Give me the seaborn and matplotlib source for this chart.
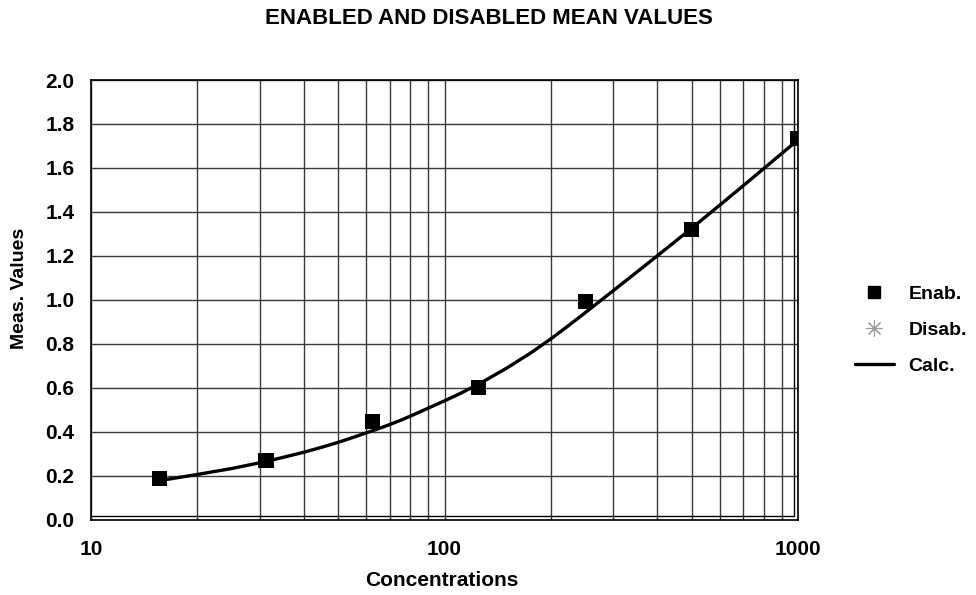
import matplotlib
matplotlib.use("Agg")
import matplotlib.pyplot as plt
import seaborn as sns
import pandas as pd
from matplotlib.lines import Line2D

# ---- data ----
enab_conc = [15.625, 31.25, 62.5, 125, 250, 500, 1000]
enab_vals = [0.185, 0.268, 0.447, 0.599, 0.992, 1.318, 1.735]

disab_conc = []
disab_vals = []

calc_conc = [15.625, 20, 25, 30, 35, 40, 45, 50, 55, 60, 65, 70, 75, 80, 85,
             90, 95, 100, 110, 125, 150, 175, 200, 225, 250, 300, 350, 400,
             500, 600, 700, 800, 900, 1000]
calc_vals = [0.177, 0.205, 0.232, 0.258, 0.283, 0.306, 0.329, 0.351, 0.373,
             0.394, 0.413, 0.432, 0.451, 0.470, 0.489, 0.507, 0.524, 0.540,
             0.571, 0.616, 0.689, 0.757, 0.822, 0.884, 0.941, 1.041, 1.126,
             1.200, 1.325, 1.430, 1.519, 1.597, 1.666, 1.727]

x_ticks = [10, 100, 1000]
x_ticklabels = ["10", "100", "1000"]
y_ticks = [0.0, 0.2, 0.4, 0.6, 0.8, 1.0, 1.2, 1.4, 1.6, 1.8, 2.0]

title = "ENABLED AND DISABLED MEAN VALUES"
xlabel = "Concentrations"
ylabel = "Meas. Values"
legend_labels = ["Enab.", "Disab.", "Calc."]

# ---- style ----
sns.set_style("white")
plt.rcParams["font.family"] = ["Liberation Sans", "DejaVu Sans"]
plt.rcParams["font.weight"] = "bold"
plt.rcParams["text.color"] = "black"
plt.rcParams["axes.labelcolor"] = "black"
plt.rcParams["xtick.color"] = "black"
plt.rcParams["ytick.color"] = "black"

fig = plt.figure(figsize=(9.76, 5.95), dpi=100)
ax = fig.add_axes([91 / 976, 1 - 519.5 / 595, (798 - 91) / 976, (519.5 - 80) / 595])

enab_df = pd.DataFrame({"conc": enab_conc, "val": enab_vals})
calc_df = pd.DataFrame({"conc": calc_conc, "val": calc_vals})
disab_df = pd.DataFrame({"conc": pd.Series(disab_conc, dtype=float),
                         "val": pd.Series(disab_vals, dtype=float)})

ax.set_xscale("log")
ax.set_xlim(10, 1000)
ax.set_ylim(0, 2.0)

grid_c = "#3a3a3a"
ax.grid(True, which="both", axis="x", color=grid_c, linewidth=1.0)
ax.grid(True, which="major", axis="y", color=grid_c, linewidth=1.0)
ax.set_axisbelow(True)

sns.lineplot(data=calc_df, x="conc", y="val", ax=ax, color="black",
             linewidth=2.4, sort=False, zorder=3)
sns.scatterplot(data=enab_df, x="conc", y="val", ax=ax, marker="s", s=120,
                color="black", edgecolor="none", zorder=4)
if len(disab_df):
    sns.scatterplot(data=disab_df, x="conc", y="val", ax=ax, marker=(8, 2, 0),
                    s=120, color="#999999", zorder=4)

ax.set_xticks(x_ticks)
ax.set_xticklabels(x_ticklabels)
ax.set_yticks(y_ticks)
ax.set_yticklabels([f"{v:.1f}" for v in y_ticks])
ax.tick_params(axis="both", which="major", direction="out", length=6,
               width=1, color="black", labelcolor="black", labelsize=15)
ax.tick_params(axis="y", which="major", pad=6)
ax.tick_params(axis="x", which="major", pad=9)
ax.tick_params(axis="x", which="minor", length=0)
for lab in ax.get_xticklabels() + ax.get_yticklabels():
    lab.set_fontweight("bold")

for side in ["left", "bottom", "right", "top"]:
    ax.spines[side].set_visible(True)
    ax.spines[side].set_color("black")
    ax.spines[side].set_linewidth(1.2)

# inner plot-area border (slightly inset at right and bottom)
dx = 4 / (798 - 91)
dy = 4 / (519.5 - 80)
ax.plot([0, 1 - dx], [dy, dy], transform=ax.transAxes, color="black",
        linewidth=1.0, zorder=2, clip_on=False)
ax.plot([1 - dx, 1 - dx], [dy, 1], transform=ax.transAxes, color="black",
        linewidth=1.0, zorder=2, clip_on=False)

ax.set_xlabel(xlabel, fontsize=15, fontweight="bold", color="black")
ax.xaxis.label.set_va("center")
ax.xaxis.set_label_coords((442 - 91) / 707, -(580 - 519.5) / 439.5)
ax.set_ylabel(ylabel, fontsize=14, fontweight="bold", color="black")
ax.yaxis.label.set_va("center")
ax.yaxis.set_label_coords((20 - 91) / 707, (519.5 - 288) / 439.5)
fig.text(489 / 976, 1 - 18 / 595, title, ha="center", va="center",
         fontsize=16, fontweight="bold", color="black")

handles = [
    Line2D([], [], linestyle="none", marker="s", markersize=8,
           color="black"),
    Line2D([], [], linestyle="none", marker=(8, 2, 0), markersize=12,
           color="#999999", markeredgewidth=0.8),
    Line2D([], [], color="black", linewidth=2.4),
]
leg = fig.legend(handles, legend_labels, loc="upper left",
                 bbox_to_anchor=(855 / 976, 1 - 285 / 595), frameon=False,
                 prop={"weight": "bold", "size": 14}, handlelength=2.0,
                 handletextpad=0.75, labelspacing=0.95, borderpad=0,
                 borderaxespad=0)
for t in leg.get_texts():
    t.set_color("black")

fig.savefig("out.png", dpi=100)
